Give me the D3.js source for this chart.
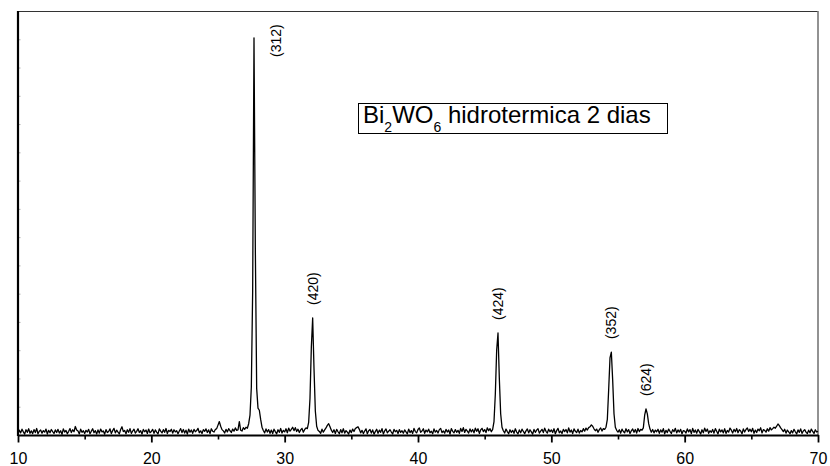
<!DOCTYPE html>
<html>
<head>
<meta charset="utf-8">
<script src="https://cdn.jsdelivr.net/npm/d3@7"></script>
<style>
  html, body { margin: 0; padding: 0; background: #fff; }
  svg { display: block; font-family: "Liberation Sans", Arial, sans-serif; }
</style>
</head>
<body>
<svg id="chart" width="830" height="466"></svg>
<script>
// XRD pattern of Bi2WO6 (hydrothermal, 2 days): 2θ scan from 10° to 70°, step 0.1°
const angleStart = 10;
const angleStep = 0.1;
const intensity = [
  8, 34, 15, 41, 22, 6, 37, 19, 44, 12,
  29, 10, 38, 17, 46, 9, 27, 35, 13, 31,
  20, 42, 7, 33, 16, 39, 24, 11, 36, 18,
  40, 14, 30, 5, 43, 21, 32, 9, 26, 45,
  17, 37, 23, 60, 35, 28, 8, 41, 19, 30,
  11, 33, 21, 40, 9, 27, 44, 16, 31, 7,
  36, 13, 42, 22, 29, 6, 38, 18, 25, 43,
  10, 31, 47, 15, 34, 20, 8, 39, 58, 24,
  32, 9, 37, 19, 45, 12, 28, 41, 14, 26,
  44, 18, 30, 7, 39, 23, 35, 11, 42, 16,
  25, 40, 12, 36, 21, 8, 43, 27, 15, 38,
  19, 46, 10, 33, 24, 41, 13, 37, 22, 30,
  9, 28, 45, 17, 39, 14, 34, 6, 42, 20,
  35, 12, 40, 23, 31, 47, 16, 29, 11, 38,
  26, 43, 18, 36, 10, 44, 27, 21, 39, 45,
  70, 95, 62, 38, 29, 14, 40, 22, 45, 30,
  18, 42, 27, 50, 33, 36, 95, 34, 28, 52,
  40, 55, 48, 80, 140, 340, 1020, 2810, 1320, 330,
  190, 175, 110, 55, 32, 15, 43, 21, 38, 12,
  35, 10, 41, 24, 8, 37, 19, 46, 14, 33,
  22, 44, 16, 49, 27, 40, 55, 31, 52, 25,
  41, 18, 36, 47, 20, 39, 50, 45, 90, 260,
  620, 828, 470, 170, 62, 33, 25, 12, 41, 20,
  36, 50, 68, 80, 58, 34, 18, 37, 11, 40,
  23, 9, 38, 16, 44, 13, 31, 20, 7, 35,
  17, 42, 25, 46, 52, 58, 40, 15, 33, 10,
  28, 43, 9, 30, 39, 14, 36, 6, 24, 41,
  12, 34, 19, 45, 8, 29, 43, 15, 27, 37,
  21, 7, 40, 23, 33, 10, 38, 18, 30, 13,
  36, 22, 8, 42, 17, 31, 11, 46, 24, 15,
  39, 50, 19, 28, 44, 12, 35, 22, 41, 16,
  27, 9, 43, 20, 32, 14, 38, 47, 17, 29,
  13, 40, 21, 35, 7, 45, 26, 16, 38, 19,
  33, 12, 46, 25, 52, 18, 40, 28, 14, 43,
  22, 39, 15, 48, 26, 44, 11, 36, 47, 24,
  38, 17, 51, 30, 45, 23, 40, 95, 290, 600,
  722, 400, 150, 55, 30, 14, 42, 24, 9, 37,
  18, 33, 12, 44, 21, 8, 36, 16, 41, 25,
  10, 29, 43, 15, 37, 22, 6, 39, 19, 34,
  45, 13, 27, 40, 17, 48, 26, 14, 41, 23,
  36, 18, 44, 9, 31, 47, 16, 28, 11, 40,
  24, 39, 15, 50, 21, 35, 10, 43, 26, 17,
  41, 14, 32, 22, 45, 27, 49, 35, 52, 58,
  72, 62, 44, 30, 42, 19, 38, 50, 28, 45,
  40, 55, 110, 320, 545, 587, 390, 150, 55, 33,
  20, 37, 13, 41, 25, 16, 44, 22, 38, 11,
  30, 43, 19, 39, 14, 46, 24, 40, 34, 50,
  140, 184, 150, 80, 42, 20, 39, 15, 35, 23,
  41, 12, 36, 20, 45, 9, 33, 17, 42, 26,
  11, 38, 23, 47, 15, 36, 21, 40, 8, 31,
  27, 14, 43, 22, 38, 10, 46, 19, 35, 13,
  40, 24, 7, 37, 16, 48, 25, 42, 12, 30,
  19, 39, 13, 45, 26, 8, 41, 22, 36, 15,
  44, 11, 32, 20, 49, 34, 14, 40, 23, 46,
  16, 37, 28, 9, 43, 21, 39, 50, 25, 41,
  23, 47, 12, 35, 18, 42, 30, 51, 15, 38,
  33, 20, 44, 27, 52, 36, 45, 55, 48, 62,
  78, 66, 50, 38, 24, 41, 13, 35, 22, 9,
  31, 15, 40, 23, 7, 36, 19, 43, 12, 28,
  38, 20, 10, 34, 16, 42, 25, 11, 37, 21,
  26
];

const xMajorTicks = [10, 20, 30, 40, 50, 60, 70];
const xMinorTicks = [15, 25, 35, 45, 55, 65];
const yTicks = d3.range(0, 3001, 200);

// Miller indices of the indexed reflections and their 2θ positions
const peakLabels = ["(312)", "(420)", "(424)", "(352)", "(624)"];
const peakAngles = [27.7, 32.1, 46.0, 54.5, 57.1];

// Legend: formula with subscripts followed by the sample description
const legendParts = [
  { t: "Bi", sub: false },
  { t: "2", sub: true },
  { t: "WO", sub: false },
  { t: "6", sub: true },
  { t: " hidrotermica 2 dias", sub: false }
];

const svg = d3.select("#chart");
const plot = { left: 18, right: 818, top: 11, bottom: 435 };

const x = d3.scaleLinear().domain([10, 70]).range([plot.left, plot.right]);
const y = d3.scaleLinear().domain([0, 3000]).range([plot.bottom, plot.top]);

const points = intensity.map((v, i) => ({ a: +(angleStart + i * angleStep).toFixed(2), v }));

// faint inward y ticks (no labels)
const yAxis = svg.append("g")
  .attr("transform", `translate(${plot.left},0)`)
  .call(d3.axisRight(y).tickValues(yTicks).tickSize(2.5).tickFormat(""));
yAxis.select(".domain").remove();
yAxis.selectAll(".tick line").attr("stroke", "#b0b0b0").attr("stroke-width", 1);

// frame: top and right borders
svg.append("line").attr("x1", plot.left).attr("x2", plot.right).attr("y1", plot.top + 0.5).attr("y2", plot.top + 0.5)
  .attr("stroke", "#333").attr("stroke-width", 1);
svg.append("line").attr("x1", plot.right).attr("x2", plot.right).attr("y1", plot.top).attr("y2", plot.bottom)
  .attr("stroke", "#777").attr("stroke-width", 1.6);

// diffraction trace
svg.append("path")
  .datum(points)
  .attr("fill", "none")
  .attr("stroke", "#000")
  .attr("stroke-width", 1.3)
  .attr("stroke-linejoin", "round")
  .attr("d", d3.line().x(d => x(d.a)).y(d => y(d.v)));

// left axis line
svg.append("line").attr("x1", plot.left).attr("x2", plot.left).attr("y1", plot.top).attr("y2", plot.bottom + 1)
  .attr("stroke", "#000").attr("stroke-width", 2.2);

// bottom axis: minor ticks
const xMinor = svg.append("g")
  .attr("transform", `translate(0,${plot.bottom})`)
  .call(d3.axisBottom(x).tickValues(xMinorTicks).tickSize(4.5).tickFormat(""));
xMinor.select(".domain").remove();
xMinor.selectAll(".tick line").attr("stroke", "#000").attr("stroke-width", 1.6);

// bottom axis: major ticks with labels
const xMajor = svg.append("g")
  .attr("transform", `translate(0,${plot.bottom})`)
  .call(d3.axisBottom(x).tickValues(xMajorTicks).tickSize(7.5).tickSizeOuter(0).tickPadding(10).tickFormat(d3.format("d")));
xMajor.select(".domain").attr("stroke", "#000").attr("stroke-width", 2);
xMajor.selectAll(".tick line").attr("stroke", "#000").attr("stroke-width", 1.8);
xMajor.selectAll(".tick text")
  .attr("fill", "#000")
  .style("font-family", '"Liberation Sans", Arial, sans-serif')
  .style("font-size", "16px");

// peak labels, rotated
const peakAt = a => intensity[Math.round((a - angleStart) / angleStep)];
peakLabels.forEach((lab, i) => {
  const a = peakAngles[i];
  let px, py;
  if (i === 0) {
    // strongest reflection: label beside the peak, near the top of the frame
    px = x(a) + 27;
    py = plot.top + 46;
  } else {
    px = x(a) + 5;
    py = y(peakAt(a)) - 13;
  }
  svg.append("text")
    .attr("transform", `translate(${px},${py}) rotate(-90)`)
    .attr("text-anchor", "start")
    .style("font-size", "14px")
    .attr("fill", "#000")
    .text(lab);
});

// legend box
const legend = svg.append("g");
const legendText = legend.append("text")
  .attr("x", 363)
  .attr("y", 122.5)
  .style("font-size", "24px")
  .attr("fill", "#000");
legendParts.forEach((p, i) => {
  const prev = i > 0 ? legendParts[i - 1] : null;
  const ts = legendText.append("tspan").text(p.t)
    .attr("dy", p.sub ? 9 : (prev && prev.sub ? -9 : 0));
  if (p.sub) ts.style("font-size", "14px");
});
const bb = legendText.node().getBBox();
legend.insert("rect", "text")
  .attr("x", 358.5)
  .attr("y", 103.5)
  .attr("width", Math.max(309, bb.x + bb.width + 4 - 358.5))
  .attr("height", 30)
  .attr("fill", "#fff")
  .attr("stroke", "#000")
  .attr("stroke-width", 1);
</script>
</body>
</html>
